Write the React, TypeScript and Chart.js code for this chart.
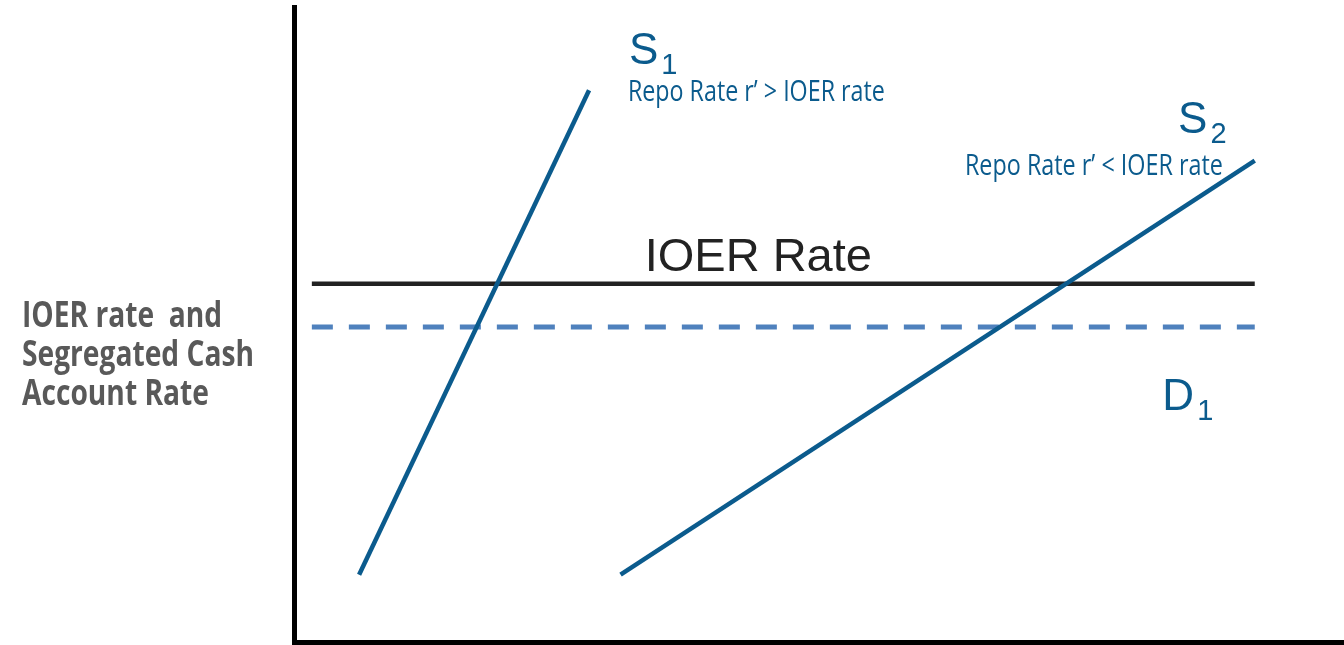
import React, { useEffect, useRef } from "react";
import { Chart, registerables } from "chart.js";

Chart.register(...registerables);

// Data (x: quantity of reserves 0..100, y: rate 0..100)
const s1X = [6.2, 28.1];
const s1Y = [10.6, 86.9];
const s2X = [31.1, 91.5];
const s2Y = [10.6, 75.8];
const ioerX = [1.7, 91.5];
const ioerY = [56.4, 56.4];
const d1X = [1.7, 91.5];
const d1Y = [49.6, 49.6];

const yAxisTitle = ["IOER rate  and", "Segregated Cash", "Account Rate"];
const ioerLabel = "IOER Rate";
const s1Sub = "Repo Rate r\u2019 > IOER rate";
const s2Sub = "Repo Rate r\u2019 < IOER rate";

const BLUE = "#0b5b8d";
const DASH = "#4f81bd";
const DARK = "#222222";

const pts = (xs: number[], ys: number[]) => xs.map((x, i) => ({ x, y: ys[i] }));

const labelsPlugin = {
  id: "labels",
  afterDraw(chart: any) {
    const ctx = chart.ctx as CanvasRenderingContext2D;
    const xs = chart.scales.x;
    const ys = chart.scales.y;
    const px = (v: number) => xs.getPixelForValue(v);
    const py = (v: number) => ys.getPixelForValue(v);
    ctx.save();
    ctx.textAlign = "left";
    ctx.textBaseline = "alphabetic";

    // IOER Rate label
    ctx.fillStyle = DARK;
    ctx.font = '47px "Liberation Sans", Arial, sans-serif';
    ctx.fillText(ioerLabel, px(33.4), py(58.5));

    const sub = (main: string, idx: string, x: number, y: number) => {
      ctx.fillStyle = BLUE;
      ctx.font = '44px "Liberation Sans", Arial, sans-serif';
      ctx.fillText(main, x, y);
      const w = ctx.measureText(main).width;
      ctx.font = '29px "Liberation Sans", Arial, sans-serif';
      ctx.fillText(idx, x + w + 3, y + 10);
    };
    sub("S", "1", px(31.9), py(91.1));
    sub("S", "2", px(84.2), py(80.1));
    sub("D", "1", px(82.7), py(36.5));

    const fit = (text: string, family: string, weight: string, target: number, base: number) => {
      ctx.font = `${weight} ${base}px ${family}`;
      const w = ctx.measureText(text).width;
      const size = (base * target) / w;
      ctx.font = `${weight} ${size.toFixed(2)}px ${family}`;
    };
    const tall = (text: string, x: number, y: number, k: number) => {
      ctx.save();
      ctx.translate(x, y);
      ctx.scale(1, k);
      ctx.fillText(text, 0, 0);
      ctx.restore();
    };

    ctx.fillStyle = BLUE;
    fit(s1Sub, '"Open Sans", sans-serif', "normal", 257, 20);
    tall(s1Sub, px(31.8), py(85.2), 1.22);
    fit(s2Sub, '"Open Sans", sans-serif', "normal", 258, 20);
    tall(s2Sub, px(63.9), py(73.5), 1.22);

    // Y axis title (left of the axis)
    ctx.fillStyle = "#595959";
    fit(yAxisTitle[1], '"Open Sans", sans-serif', "bold", 232, 26);
    const yBase = [327, 366, 405];
    yAxisTitle.forEach((t, i) => tall(t, 22, yBase[i], 1.25));
    ctx.restore();
  },
};

export default function App() {
  const ref = useRef<HTMLCanvasElement | null>(null);
  useEffect(() => {
    document.body.style.margin = "0";
    const canvas = ref.current!;
    const chart = new Chart(canvas, {
      type: "scatter",
      data: {
        datasets: [
          { label: "S1", data: pts(s1X, s1Y), showLine: true, borderColor: BLUE, borderWidth: 4.5, pointRadius: 0, borderCapStyle: "butt" },
          { label: "S2", data: pts(s2X, s2Y), showLine: true, borderColor: BLUE, borderWidth: 4.5, pointRadius: 0, borderCapStyle: "butt" },
          { label: "IOER", data: pts(ioerX, ioerY), showLine: true, borderColor: DARK, borderWidth: 4.5, pointRadius: 0 },
          { label: "D1", data: pts(d1X, d1Y), showLine: true, borderColor: DASH, borderWidth: 5, borderDash: [21, 16], pointRadius: 0 },
        ],
      },
      options: {
        animation: false,
        responsive: false,
        layout: { padding: { left: 294, top: 7, right: 0, bottom: 3 } },
        plugins: { legend: { display: false }, tooltip: { enabled: false } },
        scales: {
          x: {
            type: "linear",
            min: 0,
            max: 100,
            grid: { display: false, drawTicks: false },
            ticks: { display: false },
            border: { display: true, color: "#000", width: 5 },
          },
          y: {
            type: "linear",
            min: 0,
            max: 100,
            grid: { display: false, drawTicks: false },
            ticks: { display: false },
            border: { display: true, color: "#000", width: 5 },
          },
        },
      },
      plugins: [labelsPlugin],
    });
    return () => chart.destroy();
  }, []);
  return (
    <div style={{ width: 1344, height: 645, background: "#fff" }}>
      <canvas ref={ref} width={1344} height={645} style={{ display: "block" }} />
    </div>
  );
}
